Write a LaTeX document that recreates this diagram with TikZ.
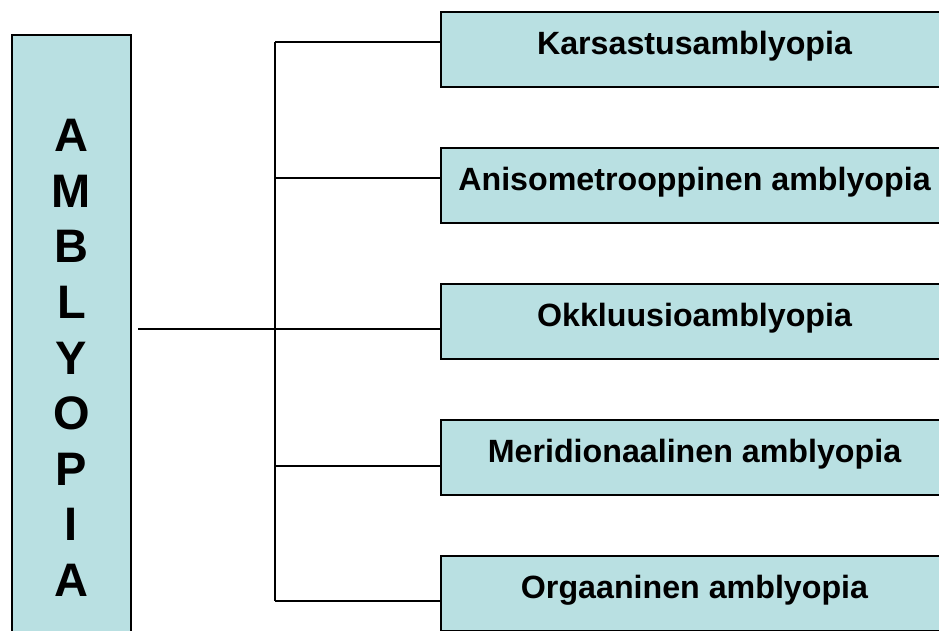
\documentclass[tikz,border=0pt]{standalone}
\usepackage{fontspec}
\setmainfont{Liberation Sans}
\definecolor{boxfill}{HTML}{B9E0E2}
\begin{document}
\begin{tikzpicture}[x=1pt,y=-1pt,
  boxstyle/.style={draw=black,line width=1.5pt,fill=boxfill,rectangle,inner sep=0pt},
  catbox/.style={boxstyle,minimum width=507pt,minimum height=75pt,
    font=\fontsize{32.2}{36}\selectfont\bfseries,text height=21.5pt,text depth=11.5pt},
  conn/.style={line width=1.5pt,draw=black}]
\useasboundingbox (0,0) rectangle (939,631);
\clip (0,0) rectangle (939,631);
\node[boxstyle,minimum width=119pt,minimum height=646pt,align=center,
  font=\fontsize{47}{55.6}\selectfont\bfseries] (amb) at (71.5,358)
  {A\\M\\B\\L\\Y\\O\\P\\I\\A};
\node[catbox] (k1) at (694.5,49.5) {Karsastusamblyopia};
\node[catbox] (k2) at (694.5,185.5) {Anisometrooppinen amblyopia};
\node[catbox] (k3) at (694.5,321.5) {Okkluusioamblyopia};
\node[catbox] (k4) at (694.5,457.5) {Meridionaalinen amblyopia};
\node[catbox] (k5) at (694.5,593.5) {Orgaaninen amblyopia};
\coordinate (start) at (138,329);
\coordinate (ttop) at (275,42);
\coordinate (tbot) at (275,601);
\draw[conn] (ttop) -- (tbot);
\draw[conn] (ttop) -- ([yshift=7.5pt]k1.west);
\draw[conn] (275,178) -- ([yshift=7.5pt]k2.west);
\draw[conn] (start) -- ([yshift=-7.5pt]k3.west);
\draw[conn] (275,466) -- ([yshift=-8.5pt]k4.west);
\draw[conn] (tbot) -- ([yshift=-7.5pt]k5.west);
\end{tikzpicture}
\end{document}
